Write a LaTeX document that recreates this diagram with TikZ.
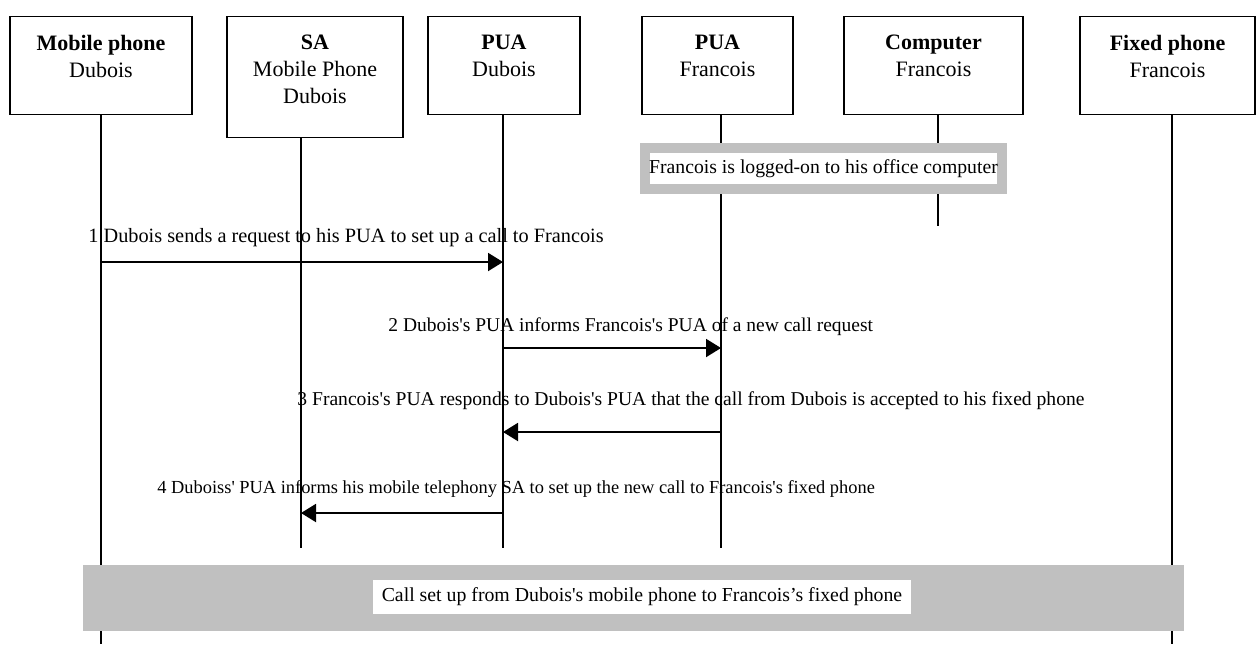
\documentclass[tikz,border=0pt]{standalone}
\usepackage{fontspec}
\setmainfont{Liberation Serif}[Ligatures=TeXOff]
\usetikzlibrary{arrows.meta}
\definecolor{bargray}{HTML}{C0C0C0}

\tikzset{
  head/.style={draw, line width=0.6pt, anchor=north, inner sep=0pt},
  headtext/.style={anchor=north, yshift=-9.5pt, align=center, inner sep=0pt, font=\fontsize{11}{13.5}\selectfont},
  life/.style={line width=0.75pt},
  msg/.style={line width=1pt, -{Triangle[length=7.5pt, width=9pt]}},
  msgtext/.style={anchor=west, inner sep=0pt, font=\fontsize{#1}{12}\selectfont},
  msgtext/.default=10,
}

\begin{document}
\begin{tikzpicture}[x=0.5pt, y=-0.5pt]
        \useasboundingbox (0,0) rectangle (1256,644);

        % Draw the nodes
        \node[head, minimum width=91pt, minimum height=49pt, label={[headtext]north:{\textbf{Mobile phone}\\Dubois}}] (mob) at (101,16) {};
        \node[head, minimum width=88pt, minimum height=60.5pt, label={[headtext]north:{\textbf{SA}\\Mobile Phone\\Dubois}}] (sa) at (315,16) {};
        \node[head, minimum width=76pt, minimum height=49pt, label={[headtext]north:{\textbf{PUA}\\Dubois}}] (puad) at (504,16) {};
        \node[head, minimum width=75.5pt, minimum height=49pt, label={[headtext]north:{\textbf{PUA}\\Francois}}] (puaf) at (717.5,16) {};
        \node[head, minimum width=89.5pt, minimum height=49pt, label={[headtext]north:{\textbf{Computer}\\Francois}}] (comp) at (933.5,16) {};
        \node[head, minimum width=87.5pt, minimum height=49pt, label={[headtext]north:{\textbf{Fixed phone}\\Francois}}] (fix) at (1167.5,16) {};

        % Lifelines
        \coordinate (lmob) at (101,0);
        \coordinate (lsa) at (301,0);
        \coordinate (lpuad) at (503,0);
        \coordinate (lpuaf) at (721,0);
        \coordinate (lcomp) at (938,0);
        \coordinate (lfix) at (1172,0);
        \coordinate (bot) at (0,644);
        \coordinate (mid) at (0,548);
        \coordinate (compend) at (0,226);
        \draw[life] (mob.south -| lmob) -- (lmob |- bot);
        \draw[life] (sa.south -| lsa) -- (lsa |- mid);
        \draw[life] (puad.south -| lpuad) -- (lpuad |- mid);
        \draw[life] (puaf.south -| lpuaf) -- (lpuaf |- mid);
        \draw[life] (comp.south -| lcomp) -- (lcomp |- compend);
        \draw[life] (fix.south -| lfix) -- (lfix |- bot);

        % State boxes
        \node[fill=white, draw=bargray, line width=5pt, minimum width=178.5pt, minimum height=20.5pt, inner sep=0pt, font=\fontsize{9.85}{12}\selectfont] (logon) at (823.5,168.5) {Francois is logged-on to his office computer};
        \node[fill=bargray, minimum width=550.5pt, minimum height=33pt, inner sep=0pt] (callbar) at (633.5,598) {};
        \node[fill=white, minimum width=269pt, minimum height=17pt, inner sep=0pt, font=\fontsize{9.9}{12}\selectfont] (callmsg) at (642,597) {Call set up from Dubois's mobile phone to Francois’s fixed phone};

        % Draw the arrows
        \coordinate (m1) at (0,262);
        \coordinate (m2) at (0,348);
        \coordinate (m3) at (0,432);
        \coordinate (m4) at (0,513);
        \draw[msg] (lmob |- m1) -- (lpuad |- m1);
        \draw[msg] (lpuad |- m2) -- (lpuaf |- m2);
        \draw[msg] (lpuaf |- m3) -- (lpuad |- m3);
        \draw[msg] (lpuad |- m4) -- (lsa |- m4);

        % Message labels
        \node[msgtext=10.15] (t1) at (88,238) {1 Dubois sends a request to his PUA to set up a call to Francois};
        \node[msgtext=9.75] (t2) at (388,327) {2 Dubois's PUA informs Francois's PUA of a new call request};
        \node[msgtext=9.8] (t3) at (297,401) {3 Francois's PUA responds to Dubois's PUA that the call from Dubois is accepted to his fixed phone};
        \node[msgtext=9.2] (t4) at (157,489) {4 Duboiss' PUA informs his mobile telephony SA to set up the new call to Francois's fixed phone};
\end{tikzpicture}
\end{document}
